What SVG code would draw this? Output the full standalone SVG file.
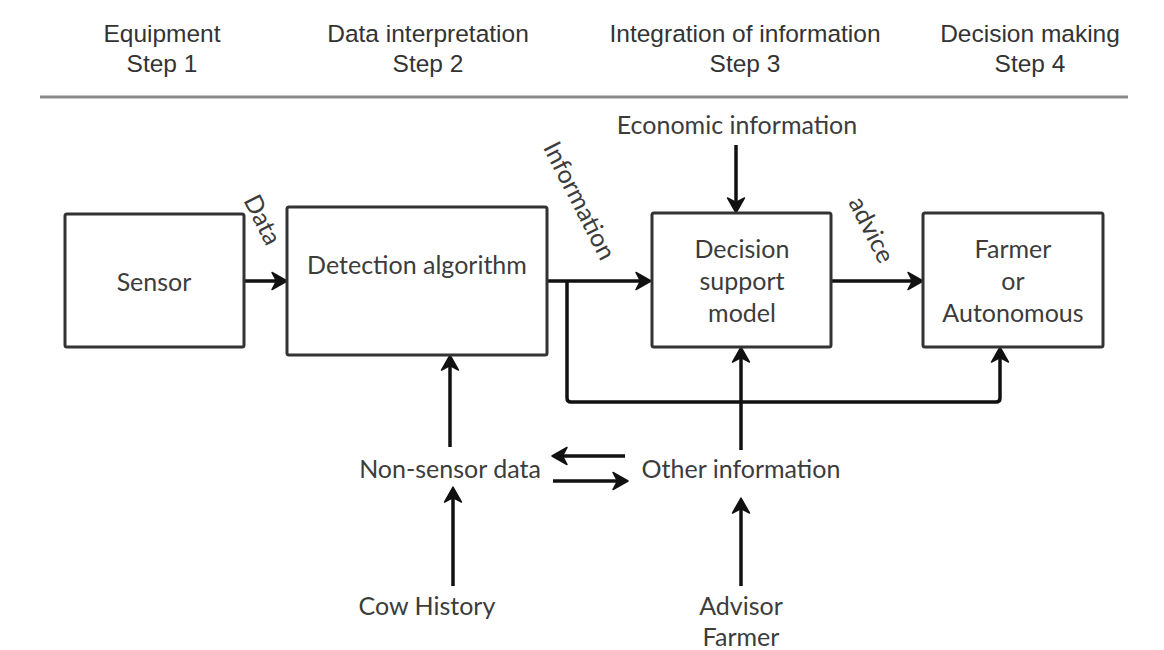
<svg xmlns="http://www.w3.org/2000/svg" width="1164" height="650" viewBox="0 0 1164 650">
  <defs>
    <path id="head" d="M0,0 L-15,-8.5 L-10.5,0 L-15,8.5 Z" fill="#111" stroke="#111" stroke-width="1.5" stroke-linejoin="round"/>
    <style>
      .hdr { font-family: "Liberation Sans", Arial, sans-serif; font-size: 24.5px; fill: #333; text-anchor: middle; }
      .lbl { font-family: Lato, "Open Sans", sans-serif; font-size: 25px; fill: #3c3c3c; text-anchor: middle; }
      .box { fill: #fff; stroke: #333; stroke-width: 3; }
      .con { fill: none; stroke: #111; stroke-width: 3.5; }
    </style>
  </defs>
  <rect width="1164" height="650" fill="#fff"/>

  <g id="header">
    <text class="hdr" x="162" y="42">Equipment</text>
    <text class="hdr" x="162" y="72">Step 1</text>
    <text class="hdr" x="428" y="42">Data interpretation</text>
    <text class="hdr" x="428" y="72">Step 2</text>
    <text class="hdr" x="745" y="42">Integration of information</text>
    <text class="hdr" x="745" y="72">Step 3</text>
    <text class="hdr" x="1030" y="42">Decision making</text>
    <text class="hdr" x="1030" y="72">Step 4</text>
    <line x1="40" y1="97" x2="1128" y2="97" stroke="#8a8a8a" stroke-width="3"/>
  </g>

  <g id="connectors">
    <line class="con" x1="244" y1="281" x2="279" y2="281"/>
    <use href="#head" transform="translate(287,281)"/>
    <line class="con" x1="547" y1="281" x2="643" y2="281"/>
    <use href="#head" transform="translate(651,281)"/>
    <path class="con" d="M567,281 V398 Q567,402 571,402 H996 Q1000,402 1000,398 V355"/>
    <use href="#head" transform="translate(1000,347) rotate(-90)"/>
    <line class="con" x1="831" y1="281" x2="915" y2="281"/>
    <use href="#head" transform="translate(923,281)"/>
    <line class="con" x1="736" y1="145" x2="736" y2="205"/>
    <use href="#head" transform="translate(736,213) rotate(90)"/>
    <line class="con" x1="450" y1="447" x2="450" y2="363"/>
    <use href="#head" transform="translate(450,355) rotate(-90)"/>
    <line class="con" x1="741" y1="450" x2="741" y2="355"/>
    <use href="#head" transform="translate(741,347) rotate(-90)"/>
    <line class="con" x1="453" y1="586" x2="453" y2="495"/>
    <use href="#head" transform="translate(453,487) rotate(-90)"/>
    <line class="con" x1="741" y1="586" x2="741" y2="506"/>
    <use href="#head" transform="translate(741,498) rotate(-90)"/>
    <line class="con" x1="625" y1="456" x2="560" y2="456"/>
    <use href="#head" transform="translate(552,456) rotate(180)"/>
    <line class="con" x1="553" y1="481" x2="620" y2="481"/>
    <use href="#head" transform="translate(628,481)"/>
  </g>

  <g id="sensor">
    <rect class="box" x="65" y="214" width="179" height="133" rx="2"/>
    <text class="lbl" x="154" y="291">Sensor</text>
  </g>
  <g id="detection">
    <rect class="box" x="287" y="207" width="260" height="148" rx="2"/>
    <text class="lbl" x="417" y="274">Detection algorithm</text>
  </g>
  <g id="decision">
    <rect class="box" x="652" y="213" width="179" height="134" rx="2"/>
    <text class="lbl" x="742" y="258">Decision</text>
    <text class="lbl" x="742" y="290">support</text>
    <text class="lbl" x="742" y="322">model</text>
  </g>
  <g id="farmer">
    <rect class="box" x="923" y="213" width="180" height="134" rx="2"/>
    <text class="lbl" x="1013" y="258">Farmer</text>
    <text class="lbl" x="1013" y="290">or</text>
    <text class="lbl" x="1013" y="322">Autonomous</text>
  </g>

  <g id="economic">
    <text class="lbl" x="737" y="134">Economic information</text>
  </g>
  <g id="nonsensor">
    <text class="lbl" x="450" y="478">Non-sensor data</text>
  </g>
  <g id="otherinfo">
    <text class="lbl" x="741" y="478">Other information</text>
  </g>
  <g id="cowhistory">
    <text class="lbl" x="427" y="615">Cow History</text>
  </g>
  <g id="advisor">
    <text class="lbl" x="741" y="615">Advisor</text>
    <text class="lbl" x="741" y="646">Farmer</text>
  </g>

  <g id="edge-labels">
    <text class="lbl" transform="translate(262,220) rotate(63)" y="8">Data</text>
    <text class="lbl" transform="translate(579,201) rotate(63)" y="8">Information</text>
    <text class="lbl" transform="translate(871,230) rotate(63)" y="8">advice</text>
  </g>
</svg>
